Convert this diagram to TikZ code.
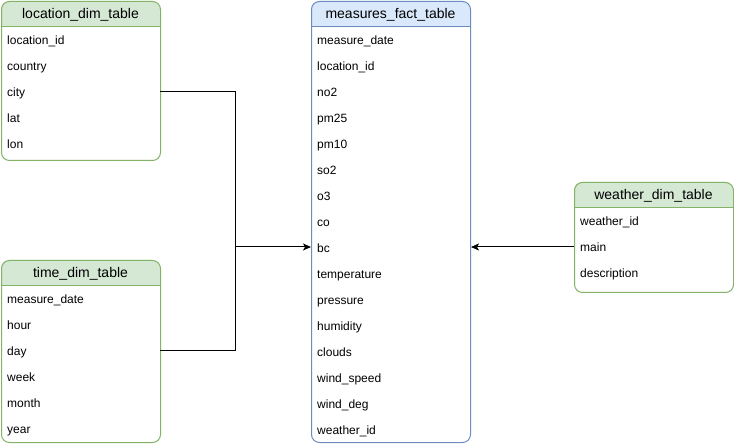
\documentclass[tikz,border=0pt]{standalone}
\usepackage{fontspec}
\setmainfont{Liberation Sans}
\usetikzlibrary{arrows.meta}
\definecolor{gfill}{HTML}{D5E8D4}
\definecolor{gline}{HTML}{82B366}
\definecolor{bfill}{HTML}{DAE8FC}
\definecolor{bline}{HTML}{6C8EBF}
\begin{document}
\begin{tikzpicture}[x=1pt,y=-1pt,
  rowtxt/.style={anchor=base west,inner sep=0pt,font=\fontsize{12}{14}\selectfont},
  hdrtxt/.style={anchor=base,inner sep=0pt,font=\fontsize{14}{16}\selectfont},
  conn/.style={draw=black,line width=1pt},
  tip/.style={-{Stealth[length=8pt,width=7pt,inset=2pt]}}]
\useasboundingbox (0,0) rectangle (734,446);
% table drawer
\def\tbl#1#2#3#4#5#6#7{% name, x1,y1,x2,y2, fill, line
  \begin{scope}
    \clip (#2,#3) rectangle (#4,#3+26);
    \fill[#6,rounded corners=8pt] (#2,#3) rectangle (#4,#5);
  \end{scope}
  \node[draw=#7,line width=1pt,rounded corners=8pt,inner sep=0pt,
    minimum width=#4-#2,minimum height=#5-#3,anchor=north west] (#1) at (#2,#3) {};
  \draw[#7,line width=1pt] (#2,#3+26) -- (#4,#3+26);
}
\tbl{loc}{1}{1}{160}{160}{gfill}{gline}
\tbl{fact}{311}{1}{470}{442}{bfill}{bline}
\tbl{tim}{1}{260}{160}{442}{gfill}{gline}
\tbl{wea}{574}{182}{733}{292}{gfill}{gline}

\node[hdrtxt] (loch) at (80.5,19) {location\_dim\_table};
\node[hdrtxt] (facth) at (390.5,19) {measures\_fact\_table};
\node[hdrtxt] (timh) at (80.5,278) {time\_dim\_table};
\node[hdrtxt] (weah) at (653.5,200) {weather\_dim\_table};

\foreach \t [count=\i from 0] in {location\_id,country,city,lat,lon}
  \node[rowtxt] (loc\i) at (7,44.5+26*\i) {\t};
\foreach \t [count=\i from 0] in {measure\_date,location\_id,no2,pm25,pm10,so2,o3,co,bc,temperature,pressure,humidity,clouds,wind\_speed,wind\_deg,weather\_id}
  \node[rowtxt] (fact\i) at (317,44.5+26*\i) {\t};
\foreach \t [count=\i from 0] in {measure\_date,hour,day,week,month,year}
  \node[rowtxt] (tim\i) at (7,303.5+26*\i) {\t};
\foreach \t [count=\i from 0] in {weather\_id,main,description}
  \node[rowtxt] (wea\i) at (580,225.5+26*\i) {\t};

\coordinate (jn) at (235,247);
\coordinate (cityc) at (160,92);
\coordinate (dayc) at (160,351);
\coordinate (mainc) at (574,247);
\draw[conn] (cityc) -| (jn);
\draw[conn] (dayc) -| (jn);
\draw[conn,tip] (jn) -- (fact.west |- jn);
\draw[conn,tip] (mainc) -- (fact.east |- mainc);
\end{tikzpicture}
\end{document}
